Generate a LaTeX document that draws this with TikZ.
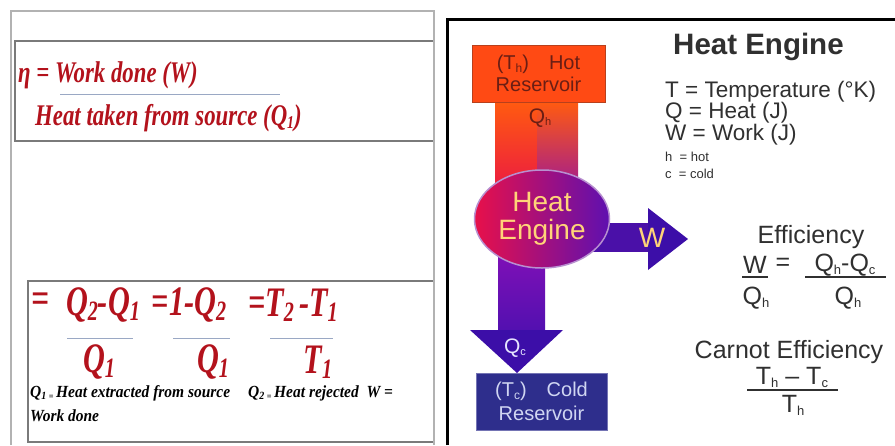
\documentclass[tikz,border=0pt]{standalone}
\usepackage{fontspec}
\setmainfont{Liberation Serif}
\newfontfamily\arialf{Liberation Sans}
\usepackage{graphicx}
\usetikzlibrary{shapes.geometric}
\definecolor{redtxt}{HTML}{B3121C}
\definecolor{fracln}{HTML}{9AA8C4}
\definecolor{boxln}{HTML}{7A7A7A}
\definecolor{hotc}{HTML}{FF4A14}
\definecolor{hotln}{HTML}{B8401C}
\definecolor{hottxt}{HTML}{6A1E14}
\definecolor{coldc}{HTML}{2E2E8C}
\definecolor{coldln}{HTML}{7474B4}
\definecolor{coldtxt}{HTML}{D0D6F2}
\definecolor{bandA}{HTML}{FF5A10}
\definecolor{bandB}{HTML}{F5102A}
\definecolor{bandC}{HTML}{C8107E}
\definecolor{bandD}{HTML}{9010A8}
\definecolor{shaftA}{HTML}{8A10B8}
\definecolor{shaftB}{HTML}{5210B0}
\definecolor{headc}{HTML}{3C0EA8}
\definecolor{wc}{HTML}{4A10A8}
\definecolor{engL}{HTML}{E8104A}
\definecolor{engR}{HTML}{5E10B0}
\definecolor{engln}{HTML}{B890D0}
\definecolor{yel}{HTML}{FFD478}
\definecolor{dtxt}{HTML}{303030}
\newcommand{\myfs}[1]{\fontsize{#1}{#1}\selectfont}
\newcommand{\sbt}[2]{\raisebox{-0.12em}{\myfs{#1}#2}}
\begin{document}
\begin{tikzpicture}[x=1pt,y=-1pt,
  lt/.style={text=redtxt, inner sep=0pt},
  ft/.style={text=black, inner sep=0pt, anchor=west, font=\myfs{17}\bfseries\itshape},
  sf/.style={text=dtxt, inner sep=0pt, font=\arialf},
  panelln/.style={draw=boxln, line width=1.4pt},
  fracl/.style={draw=fracln, line width=0.8pt},
  uline/.style={draw=dtxt, line width=1.5pt}]
\useasboundingbox (0,0) rectangle (895,445);
\fill[white] (0,0) rectangle (895,445);

% ---------- left panel ----------
\draw[draw=gray!60, line width=1.4pt] (11,445) -- (11,11) -- (434,11) -- (434,445);
\draw[panelln] (433,41) -- (15,41) -- (15,141) -- (433,141);
\node[lt, anchor=west, font=\myfs{30}\bfseries\itshape] (eta) at (18,75)
  {\scalebox{0.76}[1]{η = Work done (W)}};
\coordinate (f0a) at (60,94); \coordinate (f0b) at (280,94);
\draw[fracl] (f0a) -- (f0b);
\node[lt, anchor=west, font=\myfs{30}\bfseries\itshape] (den0) at (35,118)
  {\scalebox{0.76}[1]{Heat taken from source (Q\sbt{18}{1})}};

\draw[panelln] (433,281) -- (28,281) -- (28,442) -- (433,442);
\begin{scope}[every node/.style={lt, font=\myfs{42}\bfseries\itshape}]
\node (eq0) at (40,303) {\scalebox{0.75}[1]{=}};
\node (n1) at (103,305) {\scalebox{0.72}[1]{Q\sbt{28}{2}-Q\sbt{28}{1}}};
\node (d1) at (99,362) {\scalebox{0.72}[1]{Q\sbt{28}{1}}};
\node (n2) at (189,305) {\scalebox{0.72}[1]{=1-Q\sbt{28}{2}}};
\node (d2) at (213,362) {\scalebox{0.72}[1]{Q\sbt{28}{1}}};
\node (n3) at (293,305) {\scalebox{0.72}[1]{=T\sbt{28}{2}\,-T\sbt{28}{1}}};
\node (d3) at (318,362) {\scalebox{0.72}[1]{T\sbt{28}{1}}};
\end{scope}
\coordinate (f1a) at (67,338); \coordinate (f1b) at (133,338);
\coordinate (f2a) at (173,338); \coordinate (f2b) at (230,338);
\coordinate (f3a) at (270,338); \coordinate (f3b) at (333,338);
\draw[fracl] (f1a) -- (f1b);
\draw[fracl] (f2a) -- (f2b);
\draw[fracl] (f3a) -- (f3b);
\node[ft] (foot1) at (30,393) {\scalebox{0.91}[1]{Q\sbt{11}{1}\,\sbt{9}{=}\,Heat extracted from source}};
\node[ft] (foot2) at (248,393) {\scalebox{0.91}[1]{Q\sbt{11}{2}\,\sbt{9}{=}\,Heat rejected\ \ W =}};
\node[ft] (foot3) at (30,416) {\scalebox{0.91}[1]{Work done}};

% ---------- right panel ----------
\draw[black, line width=3pt] (447,445) -- (447,19) -- (895,19);

% hot band
\shade[top color=bandA, middle color=bandB, bottom color=engL] (495,102) rectangle (537,205);
\shade[top color=bandA, middle color=bandC, bottom color=bandD] (537,102) rectangle (578,205);
% cold shaft and head
\shade[top color=shaftA, bottom color=shaftB] (498,235) rectangle (545,331);
\coordinate (hl) at (470,330); \coordinate (hr) at (563,330); \coordinate (tip) at (517,373);
\fill[headc] (hl) -- (hr) -- (tip) -- cycle;
% work arrow
\fill[wc] (590,223) rectangle (649,252);
\coordinate (wt) at (648,208); \coordinate (wtip) at (688,239); \coordinate (wb) at (648,270);
\fill[headc] (wt) -- (wtip) -- (wb) -- cycle;

\node[ellipse, minimum width=135pt, minimum height=98pt, inner sep=0pt,
  left color=engL, right color=engR, draw=engln, line width=1.5pt,
  text=yel, align=center, font=\arialf\fontsize{28}{28}\selectfont] (eng) at (542,219) {Heat\\Engine};

\node[draw=hotln, fill=hotc, line width=1pt, minimum width=133pt, minimum height=57pt,
  text=hottxt, align=center, font=\arialf\fontsize{20}{22}\selectfont, inner sep=0pt] (hot) at (538.5,73.5)
  {(T\sbt{12}{h})\quad Hot\\Reservoir};
\node[draw=coldln, fill=coldc, line width=1pt, minimum width=131pt, minimum height=57pt,
  text=coldtxt, align=center, font=\arialf\fontsize{20}{24}\selectfont, inner sep=0pt] (cold) at (541.5,401.5)
  {(T\sbt{12}{c})\quad Cold\\Reservoir};

\node[sf, text=hottxt, font=\arialf\myfs{21}] (qh) at (540,118) {Q\sbt{11}{h}};
\node[sf, text=white!90!blue, font=\arialf\myfs{21}] (qc) at (515,348) {Q\sbt{11}{c}};
\node[sf, text=yel, font=\arialf\myfs{28}] (wl) at (652,238) {W};

\node[sf, anchor=west, font=\arialf\bfseries\myfs{29.5}] (title) at (673,47) {Heat Engine};
\node[sf, anchor=west, font=\arialf\myfs{22.5}] (dT) at (665,92) {T = Temperature (°K)};
\node[sf, anchor=west, font=\arialf\myfs{22.5}] (dQ) at (665,113) {Q = Heat (J)};
\node[sf, anchor=west, font=\arialf\myfs{22.5}] (dW) at (665,135) {W = Work (J)};
\node[sf, anchor=west, font=\arialf\myfs{13}] (dh) at (665,157) {h\ \ = hot};
\node[sf, anchor=west, font=\arialf\myfs{13}] (dc) at (665,174) {c\ \ = cold};

\begin{scope}[every node/.style={sf, font=\arialf\myfs{25}}]
\node (eff) at (811,237) {Efficiency};
\node (ew) at (755,265) {W};
\node (eeq) at (783,264) {=};
\node (enum) at (845,265) {Q\sbt{13}{h}-Q\sbt{13}{c}};
\node (eden1) at (756,298) {Q\sbt{13}{h}};
\node (eden2) at (848,298) {Q\sbt{13}{h}};
\node (carnot) at (789,352) {Carnot Efficiency};
\node (cnum) at (792,377) {T\sbt{13}{h} – T\sbt{13}{c}};
\node (cden) at (793,405) {T\sbt{13}{h}};
\end{scope}
\coordinate (u1a) at (742,277); \coordinate (u1b) at (768,277);
\coordinate (u2a) at (805,277); \coordinate (u2b) at (886,277);
\coordinate (u3a) at (747,390); \coordinate (u3b) at (838,390);
\draw[uline] (u1a) -- (u1b);
\draw[uline] (u2a) -- (u2b);
\draw[uline] (u3a) -- (u3b);
\end{tikzpicture}
\end{document}
